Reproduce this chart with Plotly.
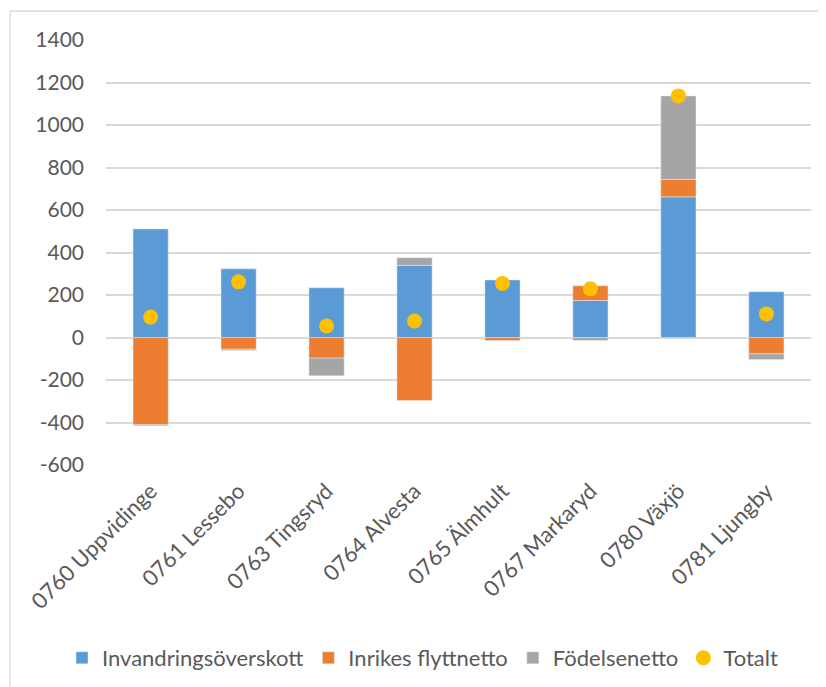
import plotly.graph_objects as go

categories = ["0760 Uppvidinge", "0761 Lessebo", "0763 Tingsryd", "0764 Alvesta",
              "0765 Älmhult", "0767 Markaryd", "0780 Växjö", "0781 Ljungby"]
invandring = [511, 323, 234, 339, 271, 174, 662, 215]
inrikes = [-411, -55, -97, -297, -15, 69, 82, -77]
fodelse = [-4, -6, -83, 36, -2, -14, 393, -27]
totalt = [96, 262, 54, 78, 254, 229, 1137, 111]
yticks = [-600, -400, -200, 0, 200, 400, 600, 800, 1000, 1200, 1400]
ytick_labels = [str(v) for v in yticks]

FONT = "Lato"
TXT = "#595959"
GRID = "#d9d9d9"

fig = go.Figure()
fig.add_trace(go.Bar(x=categories, y=invandring, name="Invandringsöverskott",
                     marker=dict(color="#5B9BD5")))
fig.add_trace(go.Bar(x=categories, y=inrikes, name="Inrikes flyttnetto",
                     marker=dict(color="#ED7D31")))
fig.add_trace(go.Bar(x=categories, y=fodelse, name="Födelsenetto",
                     marker=dict(color="#A5A5A5")))
fig.add_trace(go.Scatter(x=categories, y=totalt, name="Totalt", mode="markers",
                         marker=dict(color="#FFC000", size=15, symbol="circle")))

# page body has an 8px margin; compensate so the plot sits where the reference has it
OFF = 8
W, H = 826, 687
L = 106 - OFF
T = 40 - OFF
R = W - (811 - OFF)
B = H - (465 - OFF)
pw = W - L - R
ph = H - T - B

def px_x(x):  # window pixel -> paper
    return (x - OFF - L) / pw

def px_y(y):
    return (H - B - (y - OFF)) / ph

fig.update_layout(
    width=W, height=H,
    margin=dict(l=L, r=R, t=T, b=B, autoexpand=False),
    barmode="relative",
    bargap=0.6,
    plot_bgcolor="white", paper_bgcolor="white",
    font=dict(family=FONT, size=22, color=TXT),
    showlegend=True,
    legend=dict(orientation="h", x=px_x(62), xanchor="left", y=px_y(658), yanchor="middle",
                font=dict(family=FONT, size=22, color=TXT), itemwidth=30,
                traceorder="normal"),
    xaxis=dict(tickangle=-45, showgrid=False, showline=False, zeroline=False,
               automargin=False, ticklabelstandoff=8,
               tickfont=dict(family=FONT, size=22, color=TXT)),
    yaxis=dict(range=[-600, 1400], tickvals=yticks, ticktext=ytick_labels,
               showgrid=True, gridcolor=GRID, automargin=False,
               gridwidth=1.5, zeroline=True, zerolinecolor=GRID, zerolinewidth=1.5,
               showline=False, ticklabelstandoff=21,
               tickfont=dict(family=FONT, size=21, color=TXT)),
    shapes=[
        dict(type="line", xref="paper", yref="paper", x0=px_x(10), x1=px_x(840),
             y0=px_y(11), y1=px_y(11), line=dict(color=GRID, width=1.3)),
        dict(type="line", xref="paper", yref="paper", x0=px_x(10), x1=px_x(10),
             y0=px_y(11), y1=px_y(700), line=dict(color=GRID, width=1.3)),
    ],
)

fig.write_html("out.html")
